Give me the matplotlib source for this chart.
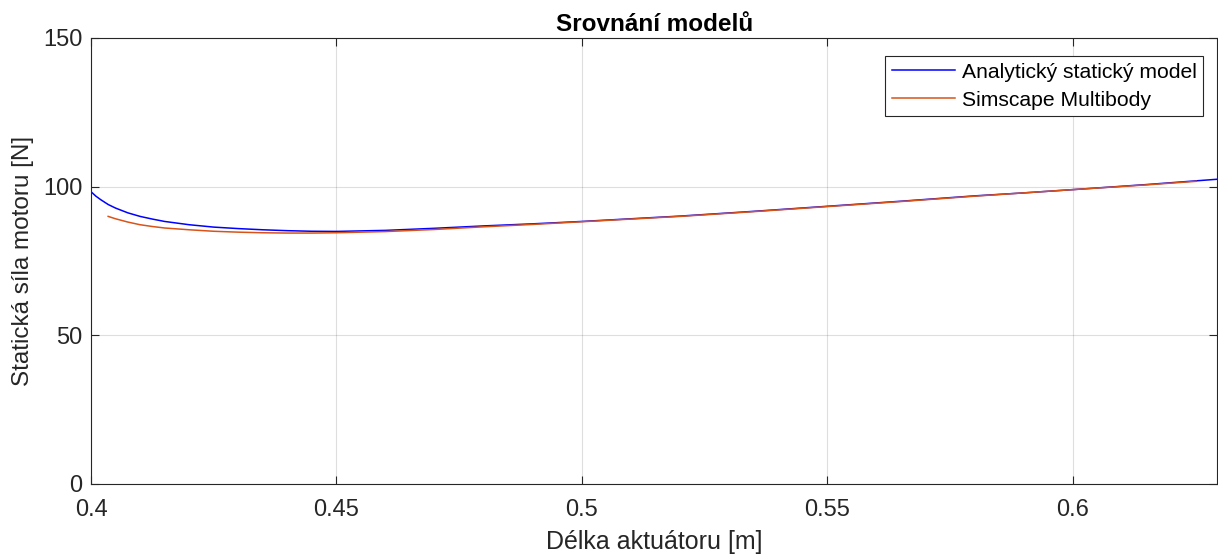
import matplotlib
matplotlib.use("Agg")
import matplotlib.pyplot as plt

# Data
x_analytic = [0.400, 0.401, 0.402, 0.4035, 0.405, 0.4075, 0.410, 0.4125, 0.415, 0.420,
              0.425, 0.430, 0.435, 0.440, 0.445, 0.450, 0.460, 0.470, 0.480, 0.490,
              0.500, 0.510, 0.520, 0.535, 0.550, 0.565, 0.580, 0.590, 0.600, 0.615, 0.6295]
y_analytic = [98.3, 96.8, 95.6, 94.0, 92.8, 91.2, 90.0, 89.1, 88.3, 87.2,
              86.4, 85.9, 85.5, 85.2, 85.0, 84.95, 85.3, 86.0, 86.8, 87.5,
              88.3, 89.2, 90.1, 91.7, 93.4, 95.1, 96.9, 97.9, 99.0, 100.7, 102.5]

x_simscape = [0.4035, 0.405, 0.4075, 0.410, 0.4125, 0.415, 0.420, 0.425, 0.430, 0.435,
              0.440, 0.445, 0.450, 0.460, 0.470, 0.480, 0.490, 0.500, 0.510, 0.520,
              0.535, 0.550, 0.565, 0.580, 0.590, 0.600, 0.615, 0.6252]
y_simscape = [90.0, 89.2, 88.1, 87.2, 86.6, 86.1, 85.5, 85.0, 84.7, 84.5,
              84.4, 84.4, 84.5, 84.9, 85.6, 86.5, 87.3, 88.2, 89.1, 90.0,
              91.6, 93.3, 95.0, 96.8, 97.9, 99.0, 100.6, 101.8]

labels = ["Analytický statický model", "Simscape Multibody"]
xticks = [0.4, 0.45, 0.5, 0.55, 0.6]
xtick_labels = ["0.4", "0.45", "0.5", "0.55", "0.6"]
yticks = [0, 50, 100, 150]

plt.rcParams['font.family'] = ['Liberation Sans', 'DejaVu Sans']
dark = (0.15, 0.15, 0.15)

fig = plt.figure(figsize=(12.18, 5.54), dpi=100)
ax = fig.add_axes([91/1218, 1 - 484/554, (1218 - 91)/1218 - 0.0005, (484 - 38)/554])

ax.plot(x_analytic, y_analytic, color=(0, 0, 1), lw=1.1, label=labels[0])
ax.plot(x_simscape, y_simscape, color=(0.85, 0.325, 0.098), lw=1.1, label=labels[1])

ax.set_xlim(0.4, 0.6295)
ax.set_ylim(0, 150)
ax.set_xticks(xticks)
ax.set_xticklabels(xtick_labels)
ax.set_yticks(yticks)

ax.grid(True, color=dark, alpha=0.15, lw=0.8)
ax.tick_params(direction='in', length=6, width=0.8, colors=dark,
               labelsize=17, top=True, right=True)
ax.tick_params(axis='x', pad=11)
ax.tick_params(axis='y', pad=6)
for s in ax.spines.values():
    s.set_color(dark)
    s.set_linewidth(0.8)

ax.set_xlabel("Délka aktuátoru [m]", fontsize=18, color=dark, labelpad=6)
ax.set_ylabel("Statická síla motoru [N]", fontsize=17.5, color=dark, labelpad=7)
ax.set_title("Srovnání modelů", fontsize=17.5, fontweight='bold', pad=5)

leg = ax.legend(loc='upper right', fontsize=15.2, frameon=True, fancybox=False,
                edgecolor=dark, framealpha=1, handlelength=3.0,
                borderpad=0.32, labelspacing=0.42, handletextpad=0.3,
                borderaxespad=0, bbox_to_anchor=(1 - 14/1127, 1 - 18/446))
leg.get_frame().set_linewidth(0.8)

fig.savefig("out.png", dpi=100)
